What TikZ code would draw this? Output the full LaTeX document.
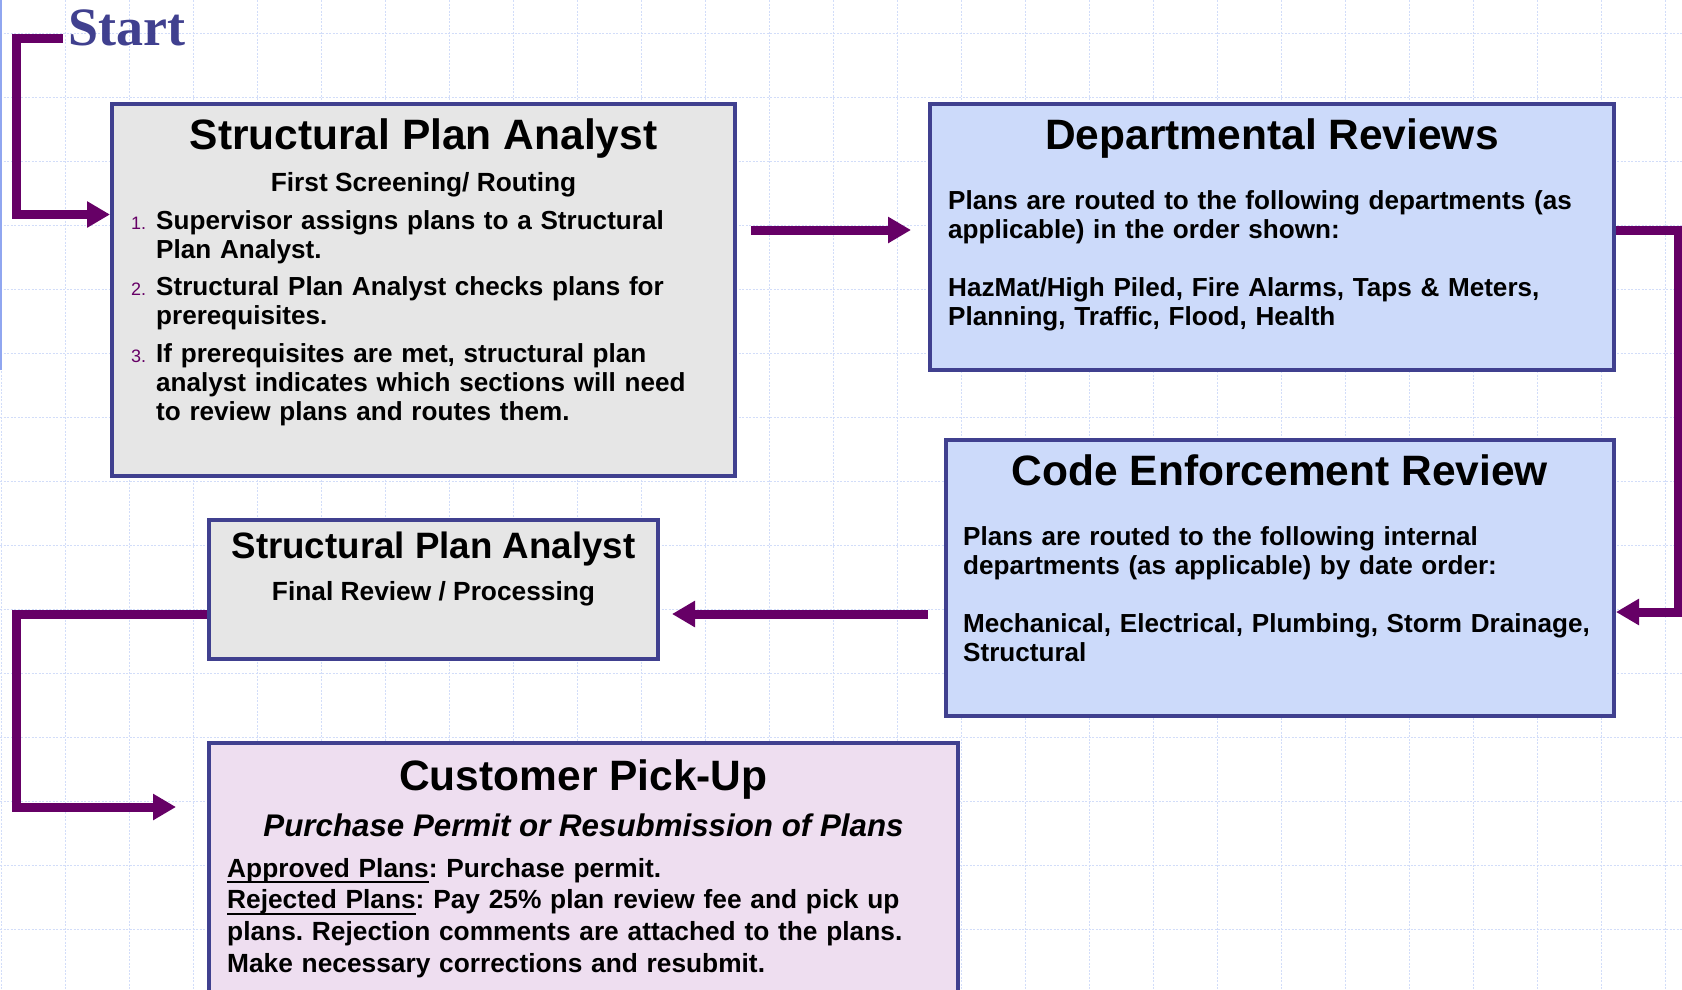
\documentclass[tikz,border=0pt]{standalone}
\usepackage{fontspec}
\setmainfont{Liberation Serif}
\setsansfont{Liberation Sans}
\usepackage{xcolor}
\usepackage{tikz}
\usetikzlibrary{arrows.meta}
\definecolor{flowpurple}{HTML}{660066}
\definecolor{panelborder}{HTML}{40408F}
\definecolor{panelgray}{HTML}{E6E6E6}
\definecolor{panelblue}{HTML}{CCDAFA}
\definecolor{panelpink}{HTML}{EEDEF0}
\definecolor{gridblue}{HTML}{D2DDF9}
\definecolor{edgeblue}{HTML}{90A6F0}
\newcommand{\planul}[1]{\leavevmode\setbox0=\hbox{#1}\rlap{\rule[-6pt]{\wd0}{2.2pt}}#1}

\begin{document}
\begin{tikzpicture}[x=1pt, y=-1pt,
  panel/.style={draw=panelborder, line width=4pt, anchor=north west},
  boxtitle/.style={anchor=base, inner sep=0pt, font=\sffamily\bfseries\fontsize{42.5}{46}\selectfont},
  boxsub/.style={anchor=base, inner sep=0pt, font=\sffamily\bfseries\fontsize{26.3}{29}\selectfont},
  bodytext/.style={anchor=base west, inner sep=0pt, text width=720pt, align=left, font=\sffamily\bfseries\frenchspacing\fontsize{26.1}{29}\selectfont},
  steplabel/.style={anchor=base west, inner sep=0pt, text=flowpurple, font=\sffamily\fontsize{18}{18}\selectfont},
  flow/.style={draw=flowpurple, line width=9pt, -{Triangle[length=23pt, width=25pt]}},
  gridline/.style={draw=gridblue, line width=1pt, dash pattern=on 2pt off 1.5pt}]

  \useasboundingbox (0,0) rectangle (1682,989);
  \clip (0,0) rectangle (1682,989);
  \fill[white] (0,0) rectangle (1682,989);
  \foreach \gx in {1,65,...,1665} \draw[gridline] (\gx,0) -- (\gx,989);
  \foreach \gy in {33,97,...,929} \draw[gridline] (0,\gy) -- (1682,\gy);
  \draw[edgeblue, line width=2pt] (1,0) -- (1,370);

  \node[anchor=base west, inner sep=0pt, text=panelborder, font=\rmfamily\bfseries\fontsize{54}{58}\selectfont] (start) at (68,45) {Start};
  \coordinate (starttail) at (63,38);

  \node[panel, fill=panelgray, minimum width=623, minimum height=372] (screen) at (110,102) {};
  \node[boxtitle] (screentitle) at ([yshift=-47pt]screen.north) {Structural Plan Analyst};
  \node[boxsub] (screensub) at ([yshift=-89pt]screen.north) {First Screening/ Routing};
  \node[steplabel] (stepone) at ([xshift=21pt, yshift=-127pt]screen.north west) {1.};
  \node[bodytext] (steponetext) at ([xshift=46pt, yshift=-127pt]screen.north west) {Supervisor assigns plans to a Structural\\Plan Analyst.};
  \node[steplabel] (steptwo) at ([xshift=21pt, yshift=-193pt]screen.north west) {2.};
  \node[bodytext] (steptwotext) at ([xshift=46pt, yshift=-193pt]screen.north west) {Structural Plan Analyst checks plans for\\prerequisites.};
  \node[steplabel] (stepthree) at ([xshift=21pt, yshift=-260pt]screen.north west) {3.};
  \node[bodytext] (stepthreetext) at ([xshift=46pt, yshift=-260pt]screen.north west) {If prerequisites are met, structural plan\\analyst indicates which sections will need\\to review plans and routes them.};

  \node[panel, fill=panelblue, minimum width=684, minimum height=266] (depts) at (928,102) {};
  \node[boxtitle] (deptstitle) at ([yshift=-47pt]depts.north) {Departmental Reviews};
  \node[bodytext] (deptsbody) at ([xshift=20pt, yshift=-107pt]depts.north west) {Plans are routed to the following departments (as\\applicable) in the order shown:\\[29pt]HazMat/High Piled, Fire Alarms, Taps \& Meters,\\Planning, Traffic, Flood, Health};

  \node[panel, fill=panelblue, minimum width=668, minimum height=276] (codeenf) at (944,438) {};
  \node[boxtitle] (codeenftitle) at ([yshift=-47pt]codeenf.north) {Code Enforcement Review};
  \node[bodytext] (codeenfbody) at ([xshift=19pt, yshift=-107pt]codeenf.north west) {Plans are routed to the following internal\\departments (as applicable) by date order:\\[29pt]Mechanical, Electrical, Plumbing, Storm Drainage,\\Structural};

  \node[panel, fill=panelgray, minimum width=449, minimum height=139] (finalrev) at (207,518) {};
  \node[boxtitle, font=\sffamily\bfseries\fontsize{36.7}{40}\selectfont] (finalrevtitle) at ([yshift=-40pt]finalrev.north) {Structural Plan Analyst};
  \node[boxsub] (finalrevsub) at ([yshift=-82pt]finalrev.north) {Final Review / Processing};

  \node[panel, fill=panelpink, minimum width=749, minimum height=255] (pickup) at (207,741) {};
  \node[boxtitle] (pickuptitle) at ([yshift=-49pt]pickup.north) {Customer Pick-Up};
  \node[boxsub, font=\sffamily\bfseries\itshape\fontsize{31.3}{34}\selectfont] (pickupsub) at ([yshift=-95pt]pickup.north) {Purchase Permit or Resubmission of Plans};
  \node[bodytext, font=\sffamily\bfseries\frenchspacing\fontsize{26.3}{31.7}\selectfont] (pickupbody) at ([xshift=20pt, yshift=-136pt]pickup.north west) {\planul{Approved Plans}: Purchase permit.\\\planul{Rejected Plans}: Pay 25\% plan review fee and pick up\\plans. Rejection comments are attached to the plans.\\Make necessary corrections and resubmit.};

  \coordinate (deptsin) at ([yshift=7pt]depts.west);
  \coordinate (finalrevin) at ([yshift=-24.5pt]finalrev.east);
  \draw[flow] (starttail) -- ++(-47,0) |- ([yshift=75.5pt]screen.west);
  \draw[flow, shorten <=14pt, shorten >=17pt] (screen.east |- deptsin) -- (deptsin);
  \draw[flow] ([yshift=7pt]depts.east) -- ++(62,0) |- ([yshift=-34pt]codeenf.east);
  \draw[flow, shorten <=16pt, shorten >=12pt] (codeenf.west |- finalrevin) -- (finalrevin);
  \draw[flow, shorten >=31pt] ([yshift=-24.5pt]finalrev.west) -- ++(-191,0) |- ([yshift=63.5pt]pickup.west);
\end{tikzpicture}
\end{document}
